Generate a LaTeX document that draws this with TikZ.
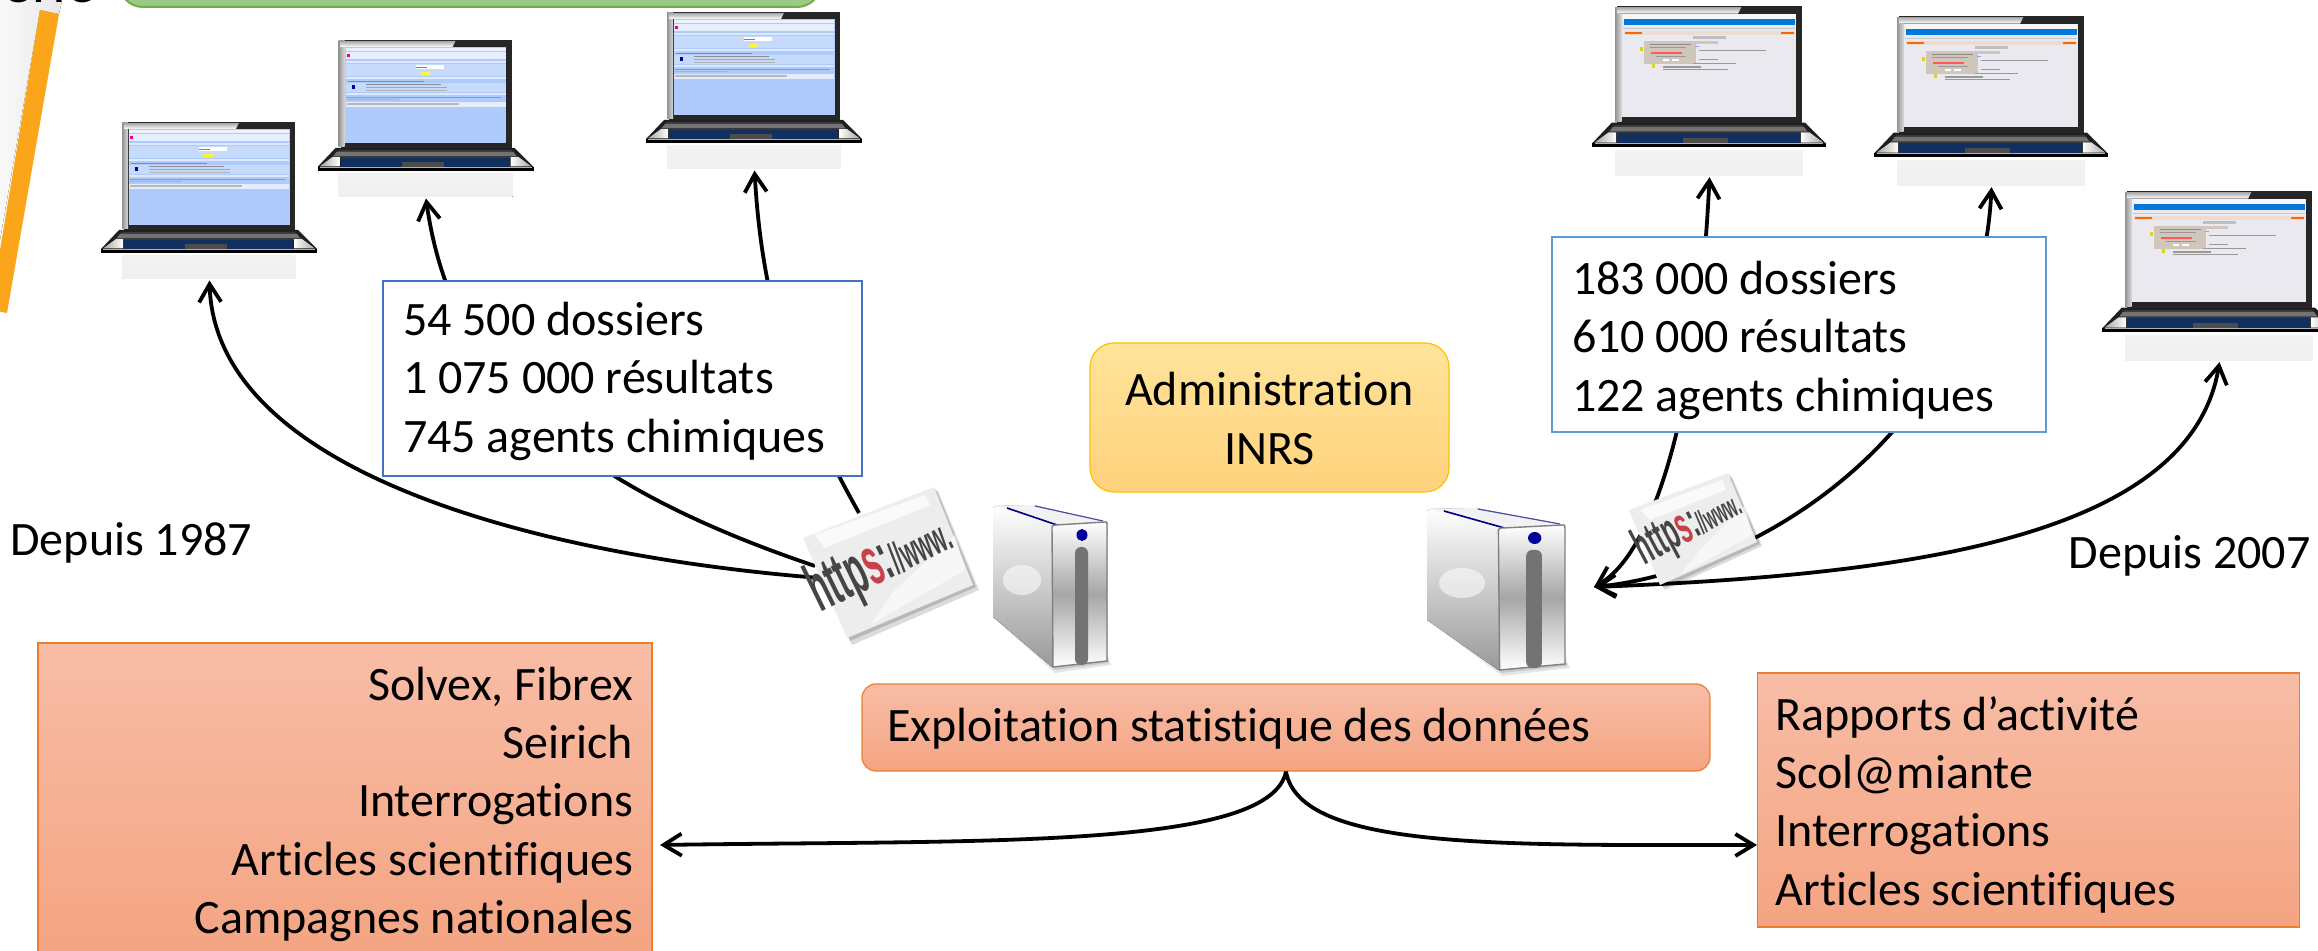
\documentclass[tikz,border=0pt]{standalone}
\usepackage{fontspec}
\setmainfont{Carlito}[Ligatures=NoCommon]
\newfontfamily\webfont{Liberation Sans}
\usetikzlibrary{arrows.meta}
\definecolor{barorange}{HTML}{FBA61A}
\definecolor{scrblue}{HTML}{AECBFB}
\definecolor{scrgrey}{HTML}{EAE9EF}
\definecolor{webdark}{HTML}{454545}
\definecolor{webred}{HTML}{C8404A}
\definecolor{orgtop}{HTML}{F8BDA6}
\definecolor{orgbot}{HTML}{F4A482}
\definecolor{orgline}{HTML}{ED7D31}
\definecolor{admtop}{HTML}{FFE49A}
\definecolor{admbot}{HTML}{FFD27D}
\definecolor{admline}{HTML}{FFC000}
\definecolor{grnfill}{HTML}{9DC986}
\definecolor{grnline}{HTML}{70AD47}
\definecolor{bluea}{HTML}{4472C4}
\definecolor{blueb}{HTML}{5B9BD5}
\definecolor{navy}{HTML}{12305F}
\tikzset{
  x=0.5pt,y=-0.5pt,
  txt/.style={font=\fontsize{24}{29.2}\selectfont,text=black},
  whitebox/.style={txt,draw=#1,line width=1.25pt,fill=white,align=flush left,inner xsep=10pt,inner ysep=0pt},
  orangebox/.style={txt,draw=orgline,line width=.6pt,top color=orgtop,bottom color=orgbot,inner ysep=0pt},
  wire/.style={line width=1.9pt,black},
  link/.style={wire,-{Straight Barb[length=9pt,width=11pt]}},
  dlink/.style={wire,{Straight Barb[length=9pt,width=11pt]}-{Straight Barb[length=9pt,width=11pt]}},
  webtxt/.style={font=\webfont\bfseries,text=webdark,inner sep=0pt,transform shape},
}
\newcommand{\topfix}[1]{\rule{0pt}{#1pt}}
% laptop body, local frame: lid 175 x 108, base to 131
\newcommand{\lapbody}[1]{%
  \fill[top color=white!95!black,bottom color=gray!12] (0,134) rectangle (174,157);
  \fill[black!88] (-3,108) -- (176,108) -- (195,127) -- (-21,127) -- cycle;
  \fill[black!85] (2,0) -- (173,0) -- (173,108) -- (2,108) -- cycle;
  \fill[left color=gray!85,right color=white!85!black] (0,1) rectangle (6,107);
  \fill[top color=gray!70,bottom color=white] (2,1) -- (117,1) -- (114,7) -- (2,7) -- cycle;
  \fill[#1] (6.5,7.5) rectangle (167.5,103);
  \fill[black!78] (0,110) -- (173,110) -- (180,118) -- (-7,118) -- cycle;
  \fill[black!55] (-2,112) -- (175,112) -- (178,116) -- (-5,116) -- cycle;
  \fill[left color=gray!70,right color=white] (-19,126.5) -- (-6,117) -- (1,117) -- (1,126.5) -- cycle;
  \fill[left color=white,right color=gray!70] (172,117) -- (180,117) -- (193,126.5) -- (172,126.5) -- cycle;
  \fill[navy] (2,118) rectangle (171,127);
  \fill[black!70] (63,122) rectangle (105,127);
  \fill[black] (-21,127) rectangle (195,131);
  \fill[gray!60] (-19,127) rectangle (193,128);
}
\newcommand{\lapblue}[4]{% name, x, y, scale
  \begin{scope}[shift={(#2,#3)},scale=#4]
    \lapbody{scrblue}
    \fill[white!75!scrblue] (7,8) rectangle (167,11);
    \fill[white!70!scrblue] (7,12.5) rectangle (167,19);
    \fill[magenta] (8,14) rectangle (11,17);
    \fill[white!55!scrblue] (7,21) rectangle (167,23);
    \fill[white!30!scrblue] (7,24) rectangle (167,36);
    \fill[white] (77,25) rectangle (105,29);
    \fill[black!50] (77,27) rectangle (88,28.5);
    \fill[yellow!80!white] (82,32) rectangle (91,35);
    \fill[white!60!scrblue] (7,37) rectangle (167,39.5);
    \fill[black!45] (9,41) rectangle (85,42);
    \fill[white!30!scrblue] (7,43) rectangle (167,52);
    \fill[blue!60!black] (13,45) rectangle (16,49);
    \fill[black!45] (27,44) rectangle (102,45.5);
    \fill[black!35] (27,47) rectangle (108,48);
    \fill[black!30] (27,50) rectangle (108,51);
    \fill[white!55!scrblue] (7,53) rectangle (167,55);
    \fill[black!40] (8,57) rectangle (163,58);
    \fill[black!30] (8,59.5) rectangle (60,60.5);
    \fill[white!65!scrblue] (7,62) rectangle (167,67);
    \fill[black!28] (8,63.5) rectangle (120,65);
    \coordinate (#1) at (87.5,158.5);
  \end{scope}}
\newcommand{\lapgrey}[4]{%
  \begin{scope}[shift={(#2,#3)},scale=#4]
    \lapbody{scrgrey}
    \fill[white!60!scrgrey] (7,7) rectangle (167,12);
    \fill[blue!45!cyan!85!black] (8,12.5) rectangle (167,17.5);
    \fill[gray!45] (7,20) rectangle (167,21.5);
    \fill[orange!12!scrgrey] (8,23) rectangle (167,27);
    \fill[orange!80!red] (9,24.5) rectangle (25,25.5);
    \fill[orange!80!red] (154,24.5) rectangle (166,25.5);
    \fill[gray!50] (72,27.5) rectangle (103,31);
    \fill[orange!18!gray!45] (72,32) rectangle (95,35);
    \fill[orange!18!gray!45] (27,32) rectangle (75,54);
    \fill[black!45] (32,35) rectangle (70,36);
    \fill[black!40] (32,38) rectangle (66,39);
    \fill[red!65] (33,43) rectangle (62,44);
    \fill[black!40] (38,46.5) rectangle (66,47.5);
    \fill[white] (44,49.5) rectangle (50,51);
    \fill[white] (53,49.5) rectangle (59,51);
    \fill[yellow!85!black] (23,38) rectangle (26,42);
    \fill[black!40] (78,41) rectangle (140,42);
    \fill[blue!40] (74,37) rectangle (78,38);
    \fill[black!40] (78,49) rectangle (95,50);
    \fill[black!40] (72,53) rectangle (112,54);
    \fill[black!40] (44,56) rectangle (80,57);
    \fill[black!40] (44,58.5) rectangle (105,59.5);
    \fill[yellow!85!black] (34,54) rectangle (37,57);
    \coordinate (#1) at (87.5,158.5);
  \end{scope}}
% server, local frame 114 x 165
\newcommand{\servershape}[2]{%
  \begin{scope}[shift={(#1)},xscale=#2]
    \fill[black,opacity=.10] (4,115) -- (62,168) -- (118,160) -- (114,150) -- cycle;
    \fill[black,opacity=.12] (6,112) -- (62,165) -- (116,158) -- (114,148) -- cycle;
    \fill[top color=white,bottom color=gray!80] (0,3) -- (3,1) -- (40,0) -- (114,17) -- (114,30) -- (59,162) -- (0,112) -- cycle;
    \fill[gray!10] (3,1) -- (40,0) -- (114,17) -- (62,21) -- cycle;
    \draw[blue!50!black,line width=.8pt] (14,3) -- (64,20);
    \draw[blue!50!black!70,line width=.6pt] (42,1) -- (110,16);
    \fill[white,opacity=.55] (29,75) ellipse (19 and 15);
    \fill[top color=white,bottom color=white,middle color=gray!70] (59,22) .. controls (60,20) .. (63,20) -- (112,17) .. controls (114,17) .. (114,20) -- (114,156) -- (60,162) -- cycle;
    \draw[gray,line width=.7pt] (59,22) .. controls (60,20) .. (63,20) -- (112,17) .. controls (114,17) .. (114,20) -- (114,156) -- (60,162) -- cycle;
    \fill[gray!90!black,rounded corners=3pt] (82,42) rectangle (95,160);
    \fill[blue!60!black] (89,30) ellipse (5.5 and 6);
  \end{scope}}
\begin{document}
\begin{tikzpicture}
\useasboundingbox (0,0) rectangle (2318,951);
\begin{scope}
\clip (0,0) rectangle (2318,951);
% decorative corner
\fill[left color=gray!5,right color=gray!18] (0,0) -- (62,0) -- (59,14) -- (40,10) -- (0,240) -- cycle;
\fill[barorange] (40,10) -- (59,14) -- (7,313) -- (-10,310) -- cycle;
\node[font=\fontsize{30}{30}\selectfont,anchor=base east,inner sep=0pt] (cut) at (97,3) {ierie};
\node[draw=grnline,fill=grnfill,line width=1pt,rounded corners=12pt,minimum width=351pt,minimum height=40pt,inner sep=0pt] (green) at (470,-33) {};

% laptops
\lapblue{lapA}{122}{122}{1}
\lapblue{lapB}{338.5}{40}{1}
\lapblue{lapC}{667}{12}{1}
\lapgrey{lapD}{1615}{6}{1.08}
\lapgrey{lapE}{1897}{16}{1.08}
\lapgrey{lapF}{2125}{191}{1.08}

\coordinate (srvAa) at (820,578);
\coordinate (srvAb) at (815,566);
\coordinate (srvAc) at (859,513);
\coordinate (srvB) at (1594,587);

% connectors, behind boxes
\draw[link] (srvAa) .. controls (530,555) and (215,470) .. (lapA);
\draw[link] (srvAb) .. controls (560,480) and (450,370) .. (lapB);
\draw[link] (srvAc) .. controls (790,390) and (762,300) .. (lapC);
\draw[dlink] (srvB) .. controls (1660,550) and (1700,380) .. (lapD);
\draw[dlink] (srvB) .. controls (1760,570) and (1980,430) .. (lapE);
\draw[dlink] (srvB) .. controls (1900,575) and (2190,540) .. (lapF);

% servers
\servershape{993,505}{1}
\servershape{1427,508}{1.21}

% https cards
\fill[black,opacity=.14] (938,491) -- (979,590) -- (852,645) -- (806,540) -- cycle;
\fill[black,opacity=.16] (936,489) -- (976,587) -- (850,641) -- (805,538) -- cycle;
\fill[gray!14] (934,487) -- (973,585) -- (847,638) -- (803,538) -- cycle;
\fill[white,opacity=.75] (815,535) -- (925,495) -- (930,505) -- (825,548) -- cycle;
\fill[white,opacity=.6] (870,625) -- (965,570) -- (955,535) -- (895,590) -- cycle;
\node[webtxt,rotate=26,xscale=.46] (webA) at (880,564) {\fontsize{34}{34}\selectfont http\textcolor{webred}{s}:\fontsize{22}{22}\selectfont//www.};

\fill[black,opacity=.14] (1732,477) -- (1762,546) -- (1665,590) -- (1632,513) -- cycle;
\fill[black,opacity=.16] (1730,475) -- (1760,544) -- (1663,588) -- (1631,511) -- cycle;
\fill[gray!14] (1728,473) -- (1757,542) -- (1660,585) -- (1629,510) -- cycle;
\fill[white,opacity=.75] (1640,510) -- (1722,480) -- (1726,490) -- (1650,520) -- cycle;
\fill[white,opacity=.6] (1680,575) -- (1752,535) -- (1745,505) -- (1700,550) -- cycle;
\node[webtxt,rotate=28,xscale=.46] (webB) at (1688,527) {\fontsize{26}{26}\selectfont http\textcolor{webred}{s}:\fontsize{16}{16}\selectfont//www.};
\end{scope}

% data boxes
\node[whitebox=bluea,text width=219.5pt,minimum height=97.5pt] (box1) at (622.5,378.5) {\topfix{19.5}54 500 dossiers\\1 075 000 résultats\\745 agents chimiques};
\node[whitebox=blueb,text width=227pt,minimum height=97.5pt,inner xsep=10pt] (box2) at (1799,334.5) {\topfix{22.5}183 000 dossiers\\610 000 résultats\\122 agents chimiques};

\node[txt,draw=admline,line width=.6pt,top color=admtop,bottom color=admbot,rounded corners=12pt,align=center,minimum width=179.5pt,minimum height=74.5pt,inner sep=0pt] (admin) at (1269.5,417.5) {\topfix{17.5}Administration\\INRS};

\node[orangebox,rounded corners=7pt,text width=399pt,inner xsep=12.5pt,align=flush left,minimum height=43.5pt] (expl) at (1286,727.5) {\topfix{18}Exploitation statistique des données};

\node[orangebox,text width=288pt,inner xsep=9.5pt,align=flush right,minimum height=157pt] (left) at (345,800) {\topfix{21}Solvex, Fibrex\\Seirich\\Interrogations\\Articles scientifiques\\Campagnes nationales};
\node[orangebox,text width=253pt,inner xsep=9pt,align=flush left,minimum height=127pt] (right) at (2028.5,800) {\topfix{21.5}Rapports d’activité\\Scol@miante\\Interrogations\\Articles scientifiques};

\coordinate (tipL) at (660,845);
\coordinate (tipR) at (1757,845);
\draw[link] (expl.south) .. controls (1270,850) and (980,840) .. (tipL);
\draw[link] (expl.south) .. controls (1300,850) and (1500,845) .. (tipR);

\node[txt,anchor=west,inner sep=0pt] (d1987) at (10,543) {Depuis 1987};
\node[txt,anchor=east,inner sep=0pt] (d2007) at (2311,556) {Depuis 2007};
\end{tikzpicture}
\end{document}
